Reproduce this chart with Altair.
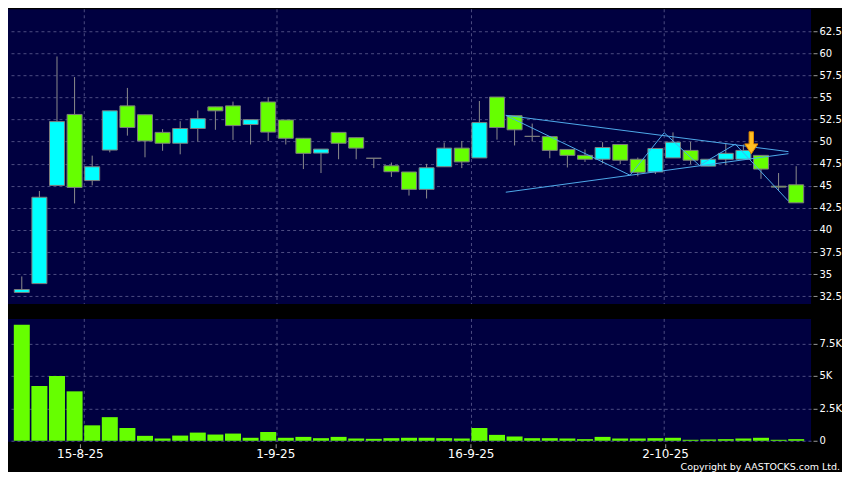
import altair as alt
import pandas as pd

# ---- data ----
idx = list(range(45))
opens = [32.93, 33.93, 45.04, 53.07, 45.59, 49.04, 54.04, 53.04, 51.04, 49.81,
         51.48, 53.93, 54.04, 51.93, 54.48, 52.44, 50.37, 48.70, 51.04, 50.44,
         48.11, 47.26, 46.56, 44.59, 47.15, 49.26, 48.15, 55.04, 52.93, 50.59,
         50.56, 49.11, 48.44, 48.00, 49.67, 48.00, 46.56, 48.15, 49.00, 47.22,
         48.00, 48.00, 48.44, 44.95, 45.11]
highs = [34.74, 44.41, 59.63, 57.30, 48.41, 53.48, 56.07, 53.04, 51.41, 52.30,
         53.52, 53.93, 54.52, 52.48, 55.04, 52.44, 50.37, 49.15, 51.04, 50.44,
         48.11, 47.63, 46.56, 47.48, 49.89, 50.07, 54.59, 55.04, 52.93, 52.04,
         50.56, 49.11, 49.11, 49.93, 49.67, 48.19, 49.22, 51.04, 49.96, 48.00,
         49.78, 49.67, 48.44, 46.44, 47.22]
lows = [32.93, 33.93, 45.04, 43.00, 45.04, 48.78, 50.67, 48.22, 48.96, 48.56,
        50.00, 51.33, 50.19, 49.67, 50.07, 49.67, 46.89, 46.44, 48.00, 48.00,
        47.00, 46.00, 43.89, 43.56, 47.15, 47.00, 48.15, 50.22, 49.56, 50.00,
        48.11, 47.07, 47.70, 47.52, 47.44, 46.07, 46.33, 48.15, 47.44, 47.22,
        47.33, 48.00, 45.78, 44.48, 43.07]
closes = [33.26, 43.70, 52.26, 44.81, 47.15, 53.48, 51.59, 50.07, 49.81, 51.48,
          52.59, 53.48, 51.81, 52.48, 51.07, 50.37, 48.67, 49.15, 49.81, 49.26,
          48.11, 46.59, 44.59, 47.04, 49.26, 47.70, 52.15, 51.59, 51.33, 50.59,
          49.00, 48.44, 48.00, 49.33, 47.89, 46.52, 49.22, 49.93, 47.89, 48.00,
          48.67, 49.00, 46.89, 44.85, 43.07]
volumes = [8940, 4220, 5000, 3810, 1190, 1820, 985, 380, 175, 400,
           630, 480, 555, 230, 680, 230, 300, 200, 300, 175,
           150, 200, 230, 230, 200, 175, 985, 455, 330, 200,
           200, 175, 125, 300, 175, 175, 200, 230, 75, 100,
           125, 175, 230, 75, 125]

# triangle / zigzag pattern drawn on the chart
upper_idx = [27.5, 43.56]
upper_val = [52.97, 48.86]
lower_idx = [27.5, 43.56]
lower_val = [44.27, 48.63]
zig_idx = [27.5, 34.56, 36.5, 38.5, 40.54, 43.54]
zig_val = [52.97, 46.19, 51.0, 47.3, 49.71, 43.3]

arrow_idx = [41.45]
arrow_val = [49.86]

price_ticks = [32.5, 35, 37.5, 40, 42.5, 45, 47.5, 50, 52.5, 55, 57.5, 60, 62.5]
vol_ticks = [0, 2500, 5000, 7500]
x_tick_pos = [3.3, 14.4, 25.5, 36.55]
x_tick_lab = ["15-8-25", "1-9-25", "16-9-25", "2-10-25"]
vgrid_pos = [3.55, 14.5, 25.55, 36.5]

# ---- tables ----
df = pd.DataFrame({"i": idx, "open": opens, "high": highs, "low": lows,
                   "close": closes, "vol": volumes})
df["dir"] = ["up" if c > o else ("down" if c < o else "flat")
             for o, c in zip(opens, closes)]

trend = pd.DataFrame({
    "i": upper_idx + lower_idx + zig_idx,
    "v": upper_val + lower_val + zig_val,
    "s": ["upper"] * len(upper_idx) + ["lower"] * len(lower_idx) + ["zig"] * len(zig_idx),
    "o": list(range(len(upper_idx))) + list(range(len(lower_idx))) + list(range(len(zig_idx))),
})
arrow = pd.DataFrame({"i": arrow_idx, "v": arrow_val})
vgrid = pd.DataFrame({"i": vgrid_pos})
copy_df = pd.DataFrame({"t": ["Copyright by AASTOCKS.com Ltd."]})

W = 804
H_PRICE = 295
H_VOL = 123
XS = alt.Scale(domain=[-0.5, 44.56], nice=False, zero=False)
GRID = "#4c4c82"
FONT = "DejaVu Sans"

yscale = alt.Scale(domain=[31.63, 64.97], nice=False, zero=False)
price_axis = alt.Axis(orient="right", values=price_ticks, labelExpr="'' + datum.value",
                      grid=True, tickSize=4, offset=2, labelPadding=2, labelFontSize=10,
                      title=None)

vg = alt.Chart(vgrid).mark_rule(color=GRID, strokeDash=[3, 3], strokeWidth=1).encode(
    x=alt.X("i:Q", scale=XS, axis=None))

wicks = alt.Chart(df).mark_rule(color="#8c8c8c", strokeWidth=1).encode(
    x=alt.X("i:Q", scale=XS, axis=None),
    y=alt.Y("low:Q", scale=yscale, axis=price_axis),
    y2="high:Q")

bodies = alt.Chart(df).mark_bar(width=15, stroke="#7c7c7c", strokeWidth=1, opacity=1).encode(
    x=alt.X("i:Q", scale=XS, axis=None),
    y=alt.Y("open:Q", scale=yscale, axis=price_axis),
    y2="close:Q",
    color=alt.Color("dir:N", scale=alt.Scale(domain=["up", "down", "flat"],
                                             range=["#00ffff", "#66ff00", "#9a9a9a"]),
                    legend=None))

lines = alt.Chart(trend).mark_line(color="#4eaaea", strokeWidth=1).encode(
    x=alt.X("i:Q", scale=XS, axis=None),
    y=alt.Y("v:Q", scale=yscale, axis=price_axis),
    detail="s:N", order="o:Q")

arrow_path = "M-0.2,-1 L0.2,-1 L0.2,0.1 L0.6,0.1 L0,1 L-0.6,0.1 L-0.2,0.1 Z"
arr = alt.Chart(arrow).mark_point(shape=arrow_path, size=484, filled=True,
                                  fill="#ffbf22", stroke="#e08a00", strokeWidth=1,
                                  opacity=1).encode(
    x=alt.X("i:Q", scale=XS, axis=None),
    y=alt.Y("v:Q", scale=yscale, axis=price_axis))

price = alt.layer(vg, wicks, bodies, lines, arr).properties(width=W, height=H_PRICE)

vscale = alt.Scale(domain=[-76, 9394], nice=False, zero=False)
x_expr = " : ".join(f"datum.value == {p} ? '{l}'" for p, l in zip(x_tick_pos, x_tick_lab)) + " : ''"

vbars = alt.Chart(df).mark_bar(width=16, color="#66ff00", opacity=1).encode(
    x=alt.X("i:Q", scale=XS,
            axis=alt.Axis(orient="bottom", values=x_tick_pos, labelExpr=x_expr, grid=False,
                          tickSize=4, offset=2, labelPadding=1, labelFontSize=12,
                          labelFlush=False, labelOverlap=False, title=None)),
    y=alt.Y("vol:Q", scale=vscale,
            axis=alt.Axis(orient="right", values=vol_ticks,
                          labelExpr="datum.value == 0 ? '0' : (datum.value / 1000) + 'K'",
                          grid=True, tickSize=4, offset=2, labelPadding=2, labelFontSize=10,
                          title=None)))

vg2 = alt.Chart(vgrid).mark_rule(color=GRID, strokeDash=[3, 3], strokeWidth=1).encode(
    x=alt.X("i:Q", scale=XS))

copy_txt = alt.Chart(copy_df).mark_text(align="right", baseline="middle", fontSize=9.5,
                                         font=FONT, color="#ffffff").encode(
    x=alt.value(833), y=alt.value(148), text="t:N")

volume = alt.layer(vg2, vbars, copy_txt).properties(width=W, height=H_VOL)

chart = alt.vconcat(price, volume, spacing=13).properties(
    padding={"left": 0, "top": 0, "right": 0, "bottom": 0}
).configure(background="#000000").configure_view(
    fill="#000040", strokeWidth=0
).configure_axis(
    labelColor="#ffffff", labelFont=FONT, domain=False, tickColor="#9a9a9a",
    gridColor=GRID, gridDash=[3, 3], gridWidth=1
)

chart.save("out.html", embed_options={"renderer": "svg", "actions": False})
